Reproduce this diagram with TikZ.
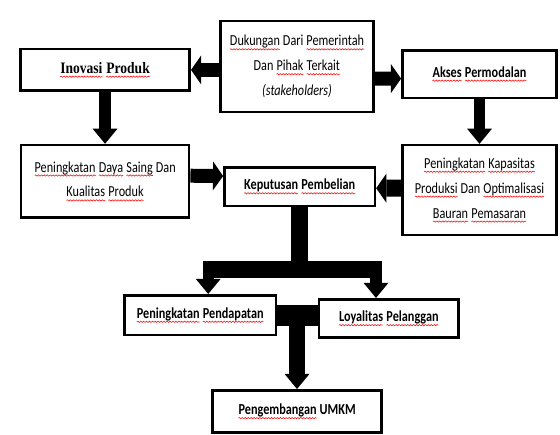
\documentclass[tikz,border=0pt]{standalone}
\usepackage{fontspec}
\setmainfont{Carlito}[FakeStretch=0.8]
\newfontfamily\titlefont{Liberation Serif}[FakeStretch=0.85]
\usetikzlibrary{arrows.meta, decorations.pathmorphing}
\newcommand{\squig}[1]{\tikz[baseline=(sq.base)]{\node (sq) [inner sep=0pt, outer sep=0pt, draw=none, minimum size=0pt] {#1};
  \draw [red, line width=0.4pt, decorate, decoration={snake, amplitude=0.5pt, segment length=2.2pt}] ([yshift=-2.6pt]sq.base west) -- ([yshift=-2.6pt]sq.base east);}}
\tikzstyle{plainBox} = [rectangle, minimum width=4cm, minimum height=1.1cm, text centered, align=center, draw=black, line width=2pt, font=\fontsize{11.5}{18.75}\selectfont]
\tikzstyle{boldBox} = [plainBox, font=\fontsize{11.5}{18.75}\selectfont\bfseries]
\tikzstyle{titleBox} = [plainBox, font=\fontsize{12}{14}\selectfont\titlefont\bfseries]
\tikzstyle{sideArrow} = [line width=0.37cm, -{Triangle[width=0.77cm, length=0.27cm, line width=0pt]}]
\tikzstyle{downArrow} = [line width=0.3cm, -{Triangle[width=0.66cm, length=0.4cm, line width=0pt]}]
\tikzstyle{fatLine} = [line width=0.45cm]
\begin{document}
\begin{tikzpicture}[node distance=3cm]
\useasboundingbox (-7.86,1.76) rectangle (6.96,-9.75);

\node (dukungan) [plainBox, minimum width=4.05cm, minimum height=2.4cm] {\squig{Dukungan} Dari \squig{Pemerintah}\\Dan \squig{Pihak} \squig{Terkait}\\\textit{(stakeholders)}};
\node (inovasi) [titleBox, left of=dukungan, xshift=-2.08cm, yshift=-0.09cm, minimum width=4.48cm, minimum height=1.1cm] {\squig{Inovasi} \squig{Produk}};
\node (akses) [boldBox, right of=dukungan, xshift=1.83cm, yshift=-0.2cm, minimum width=4.08cm, minimum height=1.26cm] {\squig{Akses} \squig{Permodalan}};

\node (dayaSaing) [plainBox, below of=inovasi, yshift=0.05cm, minimum width=4.45cm, minimum height=1.92cm] {\squig{Peningkatan} \squig{Daya} \squig{Saing} Dan\\\squig{Kualitas} \squig{Produk}};
\node (keputusan) [boldBox, below of=dukungan, xshift=0.07cm, yshift=-0.18cm, minimum width=3.98cm, minimum height=1.02cm] {\squig{Keputusan} \squig{Pembelian}};
\node (kapasitas) [plainBox, below of=akses, yshift=-0.07cm, minimum width=4.06cm, minimum height=2.38cm] {\squig{Peningkatan} \squig{Kapasitas}\\\squig{Produksi} Dan \squig{Optimalisasi}\\\squig{Bauran} \squig{Pemasaran}};

\node (pendapatan) [boldBox, below of=keputusan, xshift=-2.63cm, yshift=-0.4cm, minimum width=4cm, minimum height=1.05cm] {\squig{Peningkatan} \squig{Pendapatan}};
\node (loyalitas) [boldBox, below of=keputusan, xshift=2.36cm, yshift=-0.49cm, minimum width=3.7cm, minimum height=1.02cm] {\squig{Loyalitas} \squig{Pelanggan}};
\node (umkm) [boldBox, below of=keputusan, xshift=-0.07cm, yshift=-2.95cm, minimum width=4.48cm, minimum height=1.12cm] {\squig{Pengembangan} UMKM};

\node (splitMid) [coordinate, below of=keputusan, yshift=0.8cm] {};
\node (splitLeft) [coordinate, left of=splitMid, xshift=0.58cm] {};
\node (splitRight) [coordinate, right of=splitMid, xshift=-0.98cm] {};

\draw [sideArrow] ([yshift=-0.09cm]dukungan.west) -- (inovasi.east);
\draw [sideArrow] ([yshift=-0.32cm]dukungan.east) -- ([yshift=-0.12cm]akses.west);
\draw [downArrow] (inovasi) -- (dayaSaing);
\draw [downArrow] (akses) -- (kapasitas);
\draw [sideArrow] ([yshift=0.15cm]dayaSaing.east) -- ([yshift=0.28cm]keputusan.west);
\draw [sideArrow, line width=0.45cm] ([yshift=0.05cm]kapasitas.west) -- ([yshift=-0.04cm]keputusan.east);
\draw [fatLine] (keputusan) -- (splitMid);
\draw [fatLine, shorten <=-0.13cm, shorten >=-0.16cm] (splitLeft) -- (splitRight);
\draw [downArrow] (splitLeft) -- (splitLeft |- pendapatan.north);
\draw [downArrow] (splitRight) -- (splitRight |- loyalitas.north);
\draw [fatLine, line width=0.56cm] (pendapatan.east) -- (pendapatan.east -| loyalitas.west);
\draw [downArrow, line width=0.42cm] (pendapatan.east -| umkm.north) -- (umkm);
\end{tikzpicture}
\end{document}
